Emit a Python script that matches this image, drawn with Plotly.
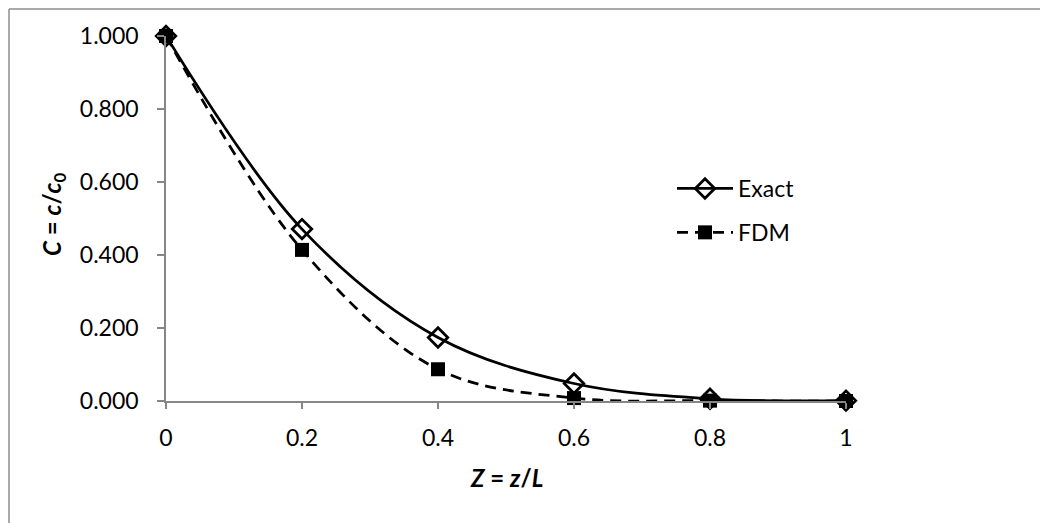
import plotly.graph_objects as go

z_vals = [0, 0.2, 0.4, 0.6, 0.8, 1.0]
exact_vals = [1.000, 0.471, 0.174, 0.048, 0.006, 0.001]
fdm_vals = [1.000, 0.414, 0.087, 0.008, 0.001, 0.000]
x_ticks = [0, 0.2, 0.4, 0.6, 0.8, 1]
x_tick_text = ["0", "0.2", "0.4", "0.6", "0.8", "1"]
y_ticks = [0, 0.2, 0.4, 0.6, 0.8, 1.0]
y_tick_text = ["0.000", "0.200", "0.400", "0.600", "0.800", "1.000"]

FONT = "Lato"
FS = 22
AX = "#868686"
OFF = 8  # page offset of the figure inside the browser window

W, H = 1040, 515
# target plot area in page pixels: x 166..846, y 36..401
L = 166 - OFF
T = 36 - OFF
R = W - (846 - OFF)
B = H - (401 - OFF)
pw = W - L - R
ph = H - T - B

def px2x(p):
    return (p - OFF - L) / pw

def px2y(p):
    return (H - B - (p - OFF)) / ph

fig = go.Figure()
fig.add_trace(go.Scatter(
    x=z_vals, y=exact_vals, name="Exact", mode="lines+markers",
    line=dict(color="black", width=2.75, shape="spline", smoothing=1),
    marker=dict(symbol="diamond-open", size=15, color="black", line=dict(width=2.75, color="black")),
    legendgroup="a",
))
fig.add_trace(go.Scatter(
    x=z_vals, y=fdm_vals, name="FDM", mode="lines+markers",
    line=dict(color="black", width=2.75, dash="11px,7px", shape="spline", smoothing=1),
    marker=dict(symbol="square", size=14, color="black"),
    legendgroup="b",
))

# chart border (left and top visible)
BX = OFF + 1
fig.add_shape(type="line", xref="paper", yref="paper",
              x0=px2x(BX), x1=px2x(BX), y0=px2y(BX), y1=px2y(600),
              line=dict(color="#8c8c8c", width=1.5))
fig.add_shape(type="line", xref="paper", yref="paper",
              x0=px2x(BX), x1=px2x(1200), y0=px2y(BX), y1=px2y(BX),
              line=dict(color="#8c8c8c", width=1.5))

# axis titles
fig.add_annotation(xref="paper", yref="paper", x=px2x(506), y=px2y(477),
                   text="<b><i>Z</i> = <i>z</i>/<i>L</i></b>", showarrow=False,
                   font=dict(family=FONT, size=24, color="black"),
                   xanchor="center", yanchor="middle")
fig.add_annotation(xref="paper", yref="paper", x=px2x(53), y=px2y(215),
                   text="<b><i>C</i> = <i>c</i>/<i>c</i><sub>0</sub></b>", showarrow=False,
                   font=dict(family=FONT, size=24, color="black"), textangle=-90,
                   xanchor="center", yanchor="middle")

fig.update_layout(
    width=W, height=H,
    margin=dict(l=L, r=R, t=T, b=B, autoexpand=False),
    paper_bgcolor="white", plot_bgcolor="white",
    font=dict(family=FONT, size=FS, color="black"),
    showlegend=True,
    legend=dict(x=px2x(672), y=px2y(167), xanchor="left", yanchor="top",
                bgcolor="rgba(0,0,0,0)", font=dict(family=FONT, size=23),
                tracegroupgap=11, itemwidth=56, traceorder="grouped"),
    xaxis=dict(range=[0, 1], tickvals=x_ticks, ticktext=x_tick_text,
               showgrid=False, zeroline=False, showline=True, linecolor=AX, linewidth=1.5,
               ticks="outside", ticklen=6, tickcolor=AX, tickwidth=1.5,
               ticklabelstandoff=10, automargin=False,
               tickfont=dict(family=FONT, size=23)),
    yaxis=dict(range=[0, 1], tickvals=y_ticks, ticktext=y_tick_text,
               showgrid=False, zeroline=False, showline=True, linecolor=AX, linewidth=1.5,
               ticks="outside", ticklen=7, tickcolor=AX, tickwidth=1.5,
               ticklabelstandoff=14, automargin=False,
               tickfont=dict(family=FONT, size=23)),
)
fig.update_traces(cliponaxis=False)

fig.write_html("out.html")
